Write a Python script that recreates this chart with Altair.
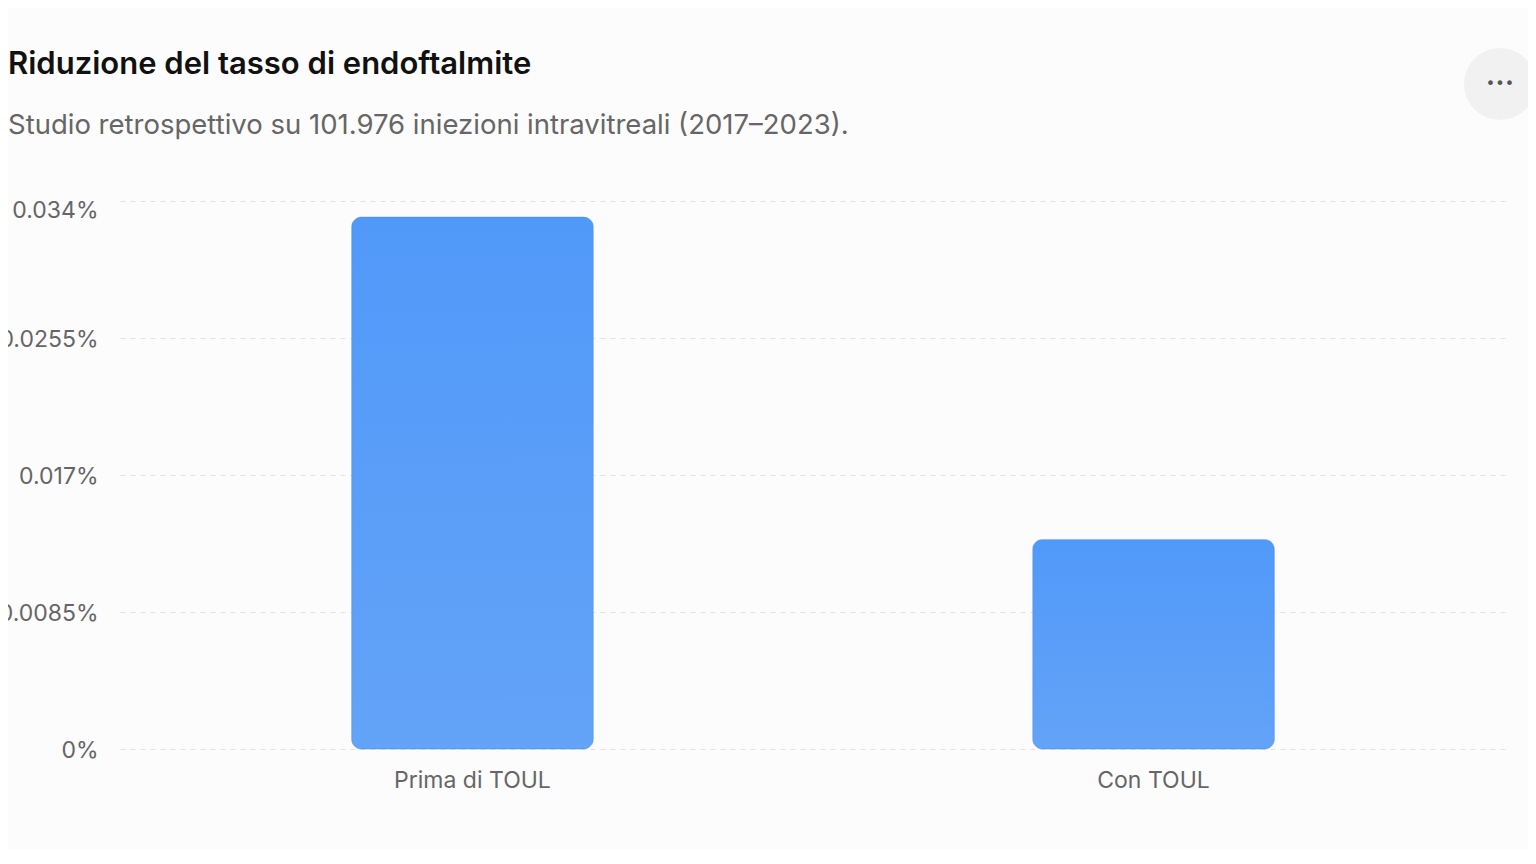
import altair as alt
import pandas as pd

categories = ["Prima di TOUL", "Con TOUL"]
rates_pct = [0.033, 0.013]
y_ticks = [0, 0.0085, 0.017, 0.0255, 0.034]

title_text = "Riduzione del tasso di endoftalmite"
subtitle_text = "Studio retrospettivo su 101.976 iniezioni intravitreali (2017–2023)."

df = pd.DataFrame({"categoria": categories, "tasso": rates_pct})

FONT = "Inter"

bars = alt.Chart(df).mark_bar(
    cornerRadius=10,
    stroke="#4a8ff0",
    strokeOpacity=0.5,
    strokeWidth=1,
    color=alt.Gradient(
        gradient="linear",
        stops=[
            alt.GradientStop(color="#5199f9", offset=0),
            alt.GradientStop(color="#63a3f8", offset=1),
        ],
        x1=0, x2=0, y1=0, y2=1,
    ),
).encode(
    x=alt.X(
        "categoria:N",
        sort=categories,
        scale=alt.Scale(paddingInner=0.645, paddingOuter=0.34),
        axis=alt.Axis(
            title=None,
            labelAngle=0,
            labelFont=FONT,
            labelFontSize=23,
            labelColor="#666666",
            labelPadding=20,
            domain=False,
            ticks=False,
            grid=False,
        ),
    ),
    y=alt.Y(
        "tasso:Q",
        scale=alt.Scale(domain=[0, 0.034], nice=False),
        axis=alt.Axis(
            title=None,
            values=y_ticks,
            labelExpr="datum.value + '%'",
            labelFont=FONT,
            labelFontSize=23,
            labelColor="#666666",
            labelPadding=22,
            labelOffset={"condition": {"test": "datum.value >= 0.034", "value": 9}, "value": 1},
            domain=False,
            ticks=False,
            grid=True,
            gridColor="#e2e2e2",
            gridDash=[5, 5],
            gridWidth=1.2,
        ),
    ),
    tooltip=["categoria:N", "tasso:Q"],
)

one = pd.DataFrame({"k": [0]})

button = alt.Chart(one).mark_point(
    shape="circle", filled=True, color="#f1f1f1", size=5184, opacity=1
).encode(x=alt.value(1380), y=alt.value(-117))

dots = alt.Chart(one).mark_text(
    text="•••", font="DejaVu Sans", fontSize=16, color="#555555"
).encode(x=alt.value(1380), y=alt.value(-117))

chart = alt.layer(bars, button, dots).properties(
    width=1386,
    height=548,
    background="#fcfcfc",
    padding={"left": 112, "top": 193, "right": 22, "bottom": 100},
    autosize=alt.AutoSizeParams(type="none"),
    title=alt.TitleParams(
        text=title_text,
        subtitle=subtitle_text,
        anchor="start",
        frame="group",
        dx=-112,
        font=FONT,
        fontSize=31,
        fontWeight=600,
        color="#111111",
        subtitleFont=FONT,
        subtitleFontSize=27.5,
        subtitleColor="#666666",
        subtitlePadding=31,
        offset=-92,
    ),
).configure_view(stroke=None)

chart.save("out.html", embed_options={"renderer": "svg", "actions": False})
